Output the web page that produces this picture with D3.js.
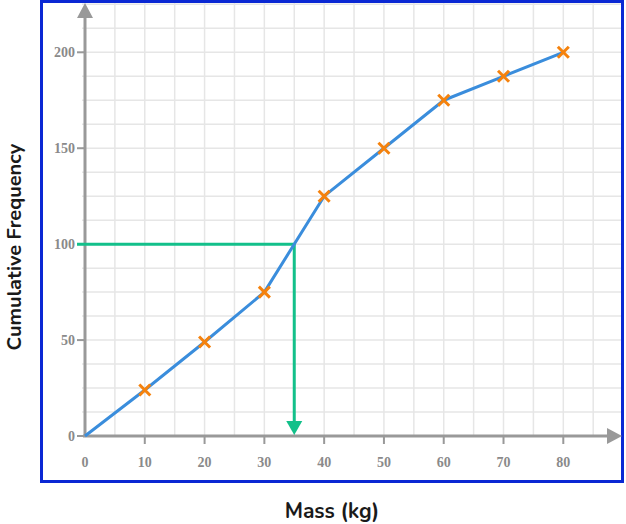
<!DOCTYPE html>
<html>
<head>
<meta charset="utf-8">
<script src="https://cdn.jsdelivr.net/npm/d3@7"></script>
<style>
  body { margin: 0; background: #fff; }
</style>
</head>
<body>
<svg id="chart" width="626" height="524"></svg>
<script>
// data
const masses = [0, 10, 20, 30, 40, 50, 60, 70, 80];
const cumFreq = [0, 24, 49, 75, 125, 150, 175, 187.5, 200];
const xTicks = [0, 10, 20, 30, 40, 50, 60, 70, 80];
const yTicks = [0, 50, 100, 150, 200];
const readOffY = 100;
const readOffX = 35;

const svg = d3.select("#chart");

const x = d3.scaleLinear().domain([0, 80]).range([85, 563.3]);
const y = d3.scaleLinear().domain([0, 200]).range([436, 52.3]);

// grid
const grid = svg.append("g").attr("stroke", "#e6e6e6").attr("stroke-width", 1.5);
grid.selectAll("line.v")
  .data(d3.range(5, 95, 5))
  .enter().append("line")
  .attr("x1", d => x(d)).attr("x2", d => x(d))
  .attr("y1", 3).attr("y2", y(0));
grid.selectAll("line.h")
  .data(d3.range(12.5, 237.5, 12.5))
  .enter().append("line")
  .attr("x1", 82).attr("x2", 621)
  .attr("y1", d => y(d)).attr("y2", d => y(d));

// frame
svg.append("rect")
  .attr("x", 41.5).attr("y", 1.5)
  .attr("width", 581).attr("height", 480)
  .attr("fill", "none")
  .attr("stroke", "#0a28d4")
  .attr("stroke-width", 3);

// axes
const axisCol = "#999";
svg.append("line")
  .attr("x1", x(0)).attr("x2", x(0))
  .attr("y1", y(0)).attr("y2", 16)
  .attr("stroke", axisCol).attr("stroke-width", 3);
svg.append("path")
  .attr("d", `M${x(0)},3 L${x(0) - 8},18 L${x(0) + 8},18 Z`)
  .attr("fill", axisCol);
svg.append("line")
  .attr("x1", x(0) - 2).attr("x2", 609)
  .attr("y1", y(0)).attr("y2", y(0))
  .attr("stroke", axisCol).attr("stroke-width", 3);
svg.append("path")
  .attr("d", `M622,${y(0)} L607,${y(0) - 8} L607,${y(0) + 8} Z`)
  .attr("fill", axisCol);

// ticks + labels
const tickFont = "'Liberation Serif', 'Times New Roman', serif";
svg.selectAll("line.yt")
  .data(yTicks).enter().append("line")
  .attr("x1", 77).attr("x2", x(0))
  .attr("y1", d => y(d)).attr("y2", d => y(d))
  .attr("stroke", axisCol).attr("stroke-width", 2);
svg.selectAll("text.yt")
  .data(yTicks).enter().append("text")
  .attr("x", 75).attr("y", d => y(d) + 5)
  .attr("text-anchor", "end")
  .attr("font-family", tickFont).attr("font-weight", "bold")
  .attr("font-size", 14).attr("fill", "#8a8a8a")
  .text(d => d);
svg.selectAll("line.xt")
  .data(xTicks.slice(1)).enter().append("line")
  .attr("x1", d => x(d)).attr("x2", d => x(d))
  .attr("y1", y(0)).attr("y2", 444)
  .attr("stroke", axisCol).attr("stroke-width", 2);
svg.selectAll("text.xt")
  .data(xTicks).enter().append("text")
  .attr("x", d => x(d)).attr("y", 467)
  .attr("text-anchor", "middle")
  .attr("font-family", tickFont).attr("font-weight", "bold")
  .attr("font-size", 14).attr("fill", "#8a8a8a")
  .text(d => d);

// green read-off line
const green = "#13c08a";
svg.append("path")
  .attr("d", `M77,${y(readOffY)} L${x(readOffX)},${y(readOffY)} L${x(readOffX)},${y(0) - 14}`)
  .attr("fill", "none").attr("stroke", green).attr("stroke-width", 3);
svg.append("path")
  .attr("d", `M${x(readOffX)},${y(0) - 1} L${x(readOffX) - 8},${y(0) - 15} L${x(readOffX) + 8},${y(0) - 15} Z`)
  .attr("fill", green);

// curve
const pts = masses.map((m, i) => [m, cumFreq[i]]);
svg.append("path")
  .datum(pts)
  .attr("fill", "none")
  .attr("stroke", "#3a8ddc")
  .attr("stroke-width", 3)
  .attr("stroke-linejoin", "round")
  .attr("d", d3.line().x(d => x(d[0])).y(d => y(d[1])));

// crosses
const cross = svg.selectAll("g.cross")
  .data(pts.slice(1)).enter().append("g")
  .attr("transform", d => `translate(${x(d[0])},${y(d[1])})`)
  .attr("stroke", "#f5820d").attr("stroke-width", 3);
cross.append("line").attr("x1", -5.5).attr("y1", -5.5).attr("x2", 5.5).attr("y2", 5.5);
cross.append("line").attr("x1", -5.5).attr("y1", 5.5).attr("x2", 5.5).attr("y2", -5.5);

// axis titles
const titleFont = "Nunito, Lato, 'Open Sans', sans-serif";
svg.append("text")
  .attr("x", 332).attr("y", 518)
  .attr("text-anchor", "middle")
  .attr("font-family", titleFont).attr("font-weight", "bold")
  .attr("font-size", 21).attr("fill", "#1a1a1a")
  .text("Mass (kg)");
svg.append("text")
  .attr("transform", "translate(21,247) rotate(-90)")
  .attr("text-anchor", "middle")
  .attr("font-family", titleFont).attr("font-weight", "bold")
  .attr("font-size", 20).attr("fill", "#1a1a1a")
  .text("Cumulative Frequency");
</script>
</body>
</html>
